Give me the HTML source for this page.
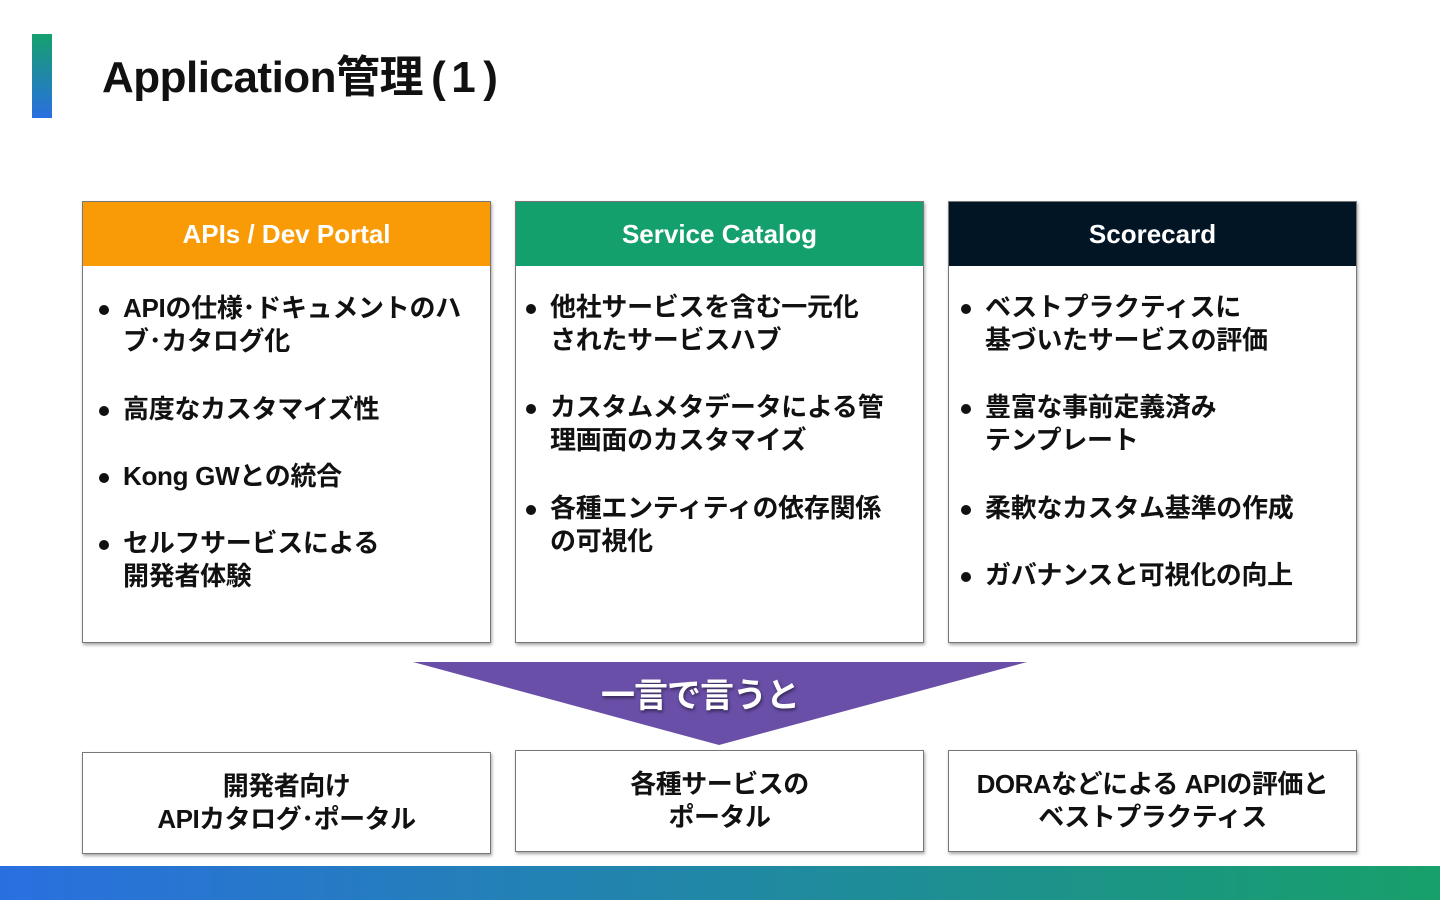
<!DOCTYPE html>
<html><head><meta charset="utf-8"><style>
*{margin:0;padding:0;box-sizing:border-box}
body{width:1440px;height:900px;background:#fff;position:relative;overflow:hidden;font-family:"Liberation Sans","Noto Sans CJK JP",sans-serif;font-weight:bold;color:#111}
.a{position:absolute}
.card{position:absolute;top:201px;width:409px;height:442px;border:1.5px solid #777;box-shadow:1px 2px 3px rgba(0,0,0,.35);background:#fff}
.hd{height:64px;color:#fff;font-size:26px;text-align:center;line-height:64px}
.it{position:absolute;font-size:26px;line-height:33px;white-space:nowrap;letter-spacing:-0.3px}
.it:before{content:"";position:absolute;left:-24px;top:13px;width:10px;height:10px;border-radius:50%;background:#111}
.bx{position:absolute;width:409px;height:102px;border:1.5px solid #777;box-shadow:1px 2px 3px rgba(0,0,0,.35);background:#fff;display:flex;align-items:center;justify-content:center;text-align:center;font-size:26px;line-height:33px;letter-spacing:-0.5px}
</style></head><body>
<div class="a" style="left:32px;top:34px;width:20px;height:84px;background:linear-gradient(#15a06e,#2a6fe0)"></div>
<div class="a" style="left:102px;top:48px;font-size:44px;line-height:60px;letter-spacing:-0.5px">Application管理<span style="margin-left:8px">(</span><span style="margin-left:6px">1</span><span style="margin-left:8px">)</span></div>

<div class="card" style="left:82px"><div class="hd" style="background:#f99b07">APIs / Dev Portal</div>
<div class="it" style="left:40px;top:90px">APIの仕様･ドキュメントのハ<br>ブ･カタログ化</div>
<div class="it" style="left:40px;top:191px">高度なカスタマイズ性</div>
<div class="it" style="left:40px;top:258px">Kong GWとの統合</div>
<div class="it" style="left:40px;top:325px">セルフサービスによる<br>開発者体験</div>
</div>
<div class="card" style="left:515px"><div class="hd" style="background:#14a06c">Service Catalog</div>
<div class="it" style="left:34px;top:89px">他社サービスを含む一元化<br>されたサービスハブ</div>
<div class="it" style="left:34px;top:189px">カスタムメタデータによる管<br>理画面のカスタマイズ</div>
<div class="it" style="left:34px;top:290px">各種エンティティの依存関係<br>の可視化</div>
</div>
<div class="card" style="left:948px"><div class="hd" style="background:#021525">Scorecard</div>
<div class="it" style="left:36px;top:89px">ベストプラクティスに<br>基づいたサービスの評価</div>
<div class="it" style="left:36px;top:189px">豊富な事前定義済み<br>テンプレート</div>
<div class="it" style="left:36px;top:290px">柔軟なカスタム基準の作成</div>
<div class="it" style="left:36px;top:357px">ガバナンスと可視化の向上</div>
</div>

<svg class="a" style="left:0;top:0" width="1440" height="900"><polygon points="413,662 1027,662 719,745" fill="#6a4fa8"/></svg>
<div class="a" style="left:520px;top:676px;width:360px;text-align:center;color:#fff;font-size:34px;line-height:40px;letter-spacing:-1px;text-shadow:1px 2px 3px rgba(0,0,0,.5)">一言で言うと</div>

<div class="bx" style="left:82px;top:752px">開発者向け<br>APIカタログ･ポータル</div>
<div class="bx" style="left:515px;top:750px">各種サービスの<br>ポータル</div>
<div class="bx" style="left:948px;top:750px">DORAなどによる APIの評価と<br>ベストプラクティス</div>

<div class="a" style="left:0;top:866px;width:1440px;height:34px;background:linear-gradient(90deg,#2a6fe0,#17a06a)"></div>
</body></html>
